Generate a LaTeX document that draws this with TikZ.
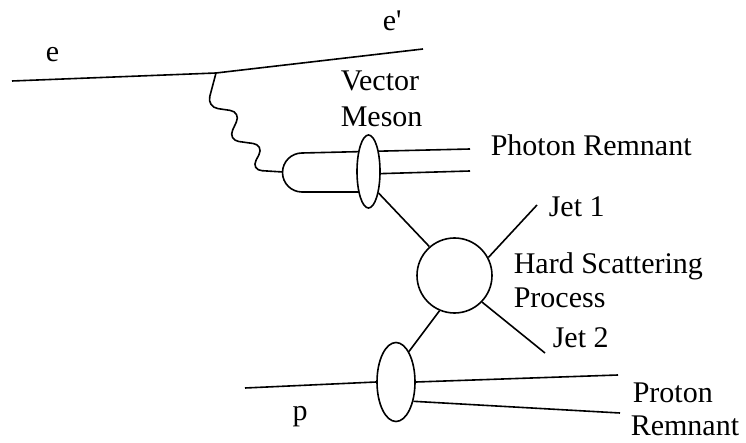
\documentclass[tikz,border=0pt]{standalone}
\usepackage{fontspec}
\setmainfont{Liberation Serif}
\usetikzlibrary{shapes.geometric}
\begin{document}
\begin{tikzpicture}[x=1pt,y=-1pt,line width=1.6pt,
  lbl/.style={font=\fontsize{30}{34}\selectfont,inner sep=0pt},
  blob/.style={draw,fill=white,ellipse,inner sep=0pt},
  wave/.style={rounded corners=11pt}]
\path[use as bounding box] (0,0) rectangle (746,443);
% coordinates
\coordinate (ein) at (12,81);
\coordinate (v) at (216,73);
\coordinate (eout) at (423,49);
\coordinate (cap) at (283,172);
\coordinate (pr1) at (470,149);
\coordinate (pr2) at (470,171);
\coordinate (j1) at (537,205);
\coordinate (j2) at (545,353);
\coordinate (pin) at (245,388);
\coordinate (rem1) at (618,375);
\coordinate (rem2) at (620,413);
% electron
\draw (ein) -- (v) -- (eout);
% photon
\draw[wave] (v) -- (207,107) -- (241,112) -- (228,140) -- (264,145) -- (251,170) -- (cap);
% capsule (q qbar)
\draw (pr1) -- (302,153) arc[start angle=270,end angle=90,radius=19.5] -- (368,192);
\draw (368,174) -- (pr2);
% vector meson blob
\node[blob,minimum width=23pt,minimum height=73pt] (vm) at (368.5,171.5) {};
% hard scattering
\node[draw,circle,minimum size=75pt,inner sep=0pt] (hs) at (454.5,275.5) {};
% proton blob
\node[blob,minimum width=38pt,minimum height=79pt] (pb) at (396,382) {};
% connectors
\draw (vm.-65) -- (hs.131);
\draw (hs.28) -- (j1);
\draw (hs.-44) -- (j2);
\draw (hs.-113) -- (pb.67);
\draw (pin) -- (pb.west);
\draw (pb.east) -- (rem1);
\draw (pb.-48) -- (rem2);
% labels
\node[lbl,anchor=base west] (le) at (45,62) {e};
\node[lbl,anchor=base west] (lep) at (382,31) {e\textquotesingle};
\node[lbl,anchor=base west] (lv) at (340,91) {Vector};
\node[lbl,anchor=base west] (lm) at (340,127) {Meson};
\node[lbl,anchor=base west] (lpr) at (490,156) {Photon Remnant};
\node[lbl,anchor=base west] (lj1) at (548,217) {Jet 1};
\node[lbl,anchor=base west] (lhs) at (513,274) {Hard Scattering};
\node[lbl,anchor=base west] (lpp) at (513,307) {Process};
\node[lbl,anchor=base west] (lj2) at (552,347) {Jet 2};
\node[lbl,anchor=base] (lp) at (300,420) {p};
\node[lbl,anchor=base west] (lpt) at (632,402) {Proton};
\node[lbl,anchor=base west] (lrm) at (630,435) {Remnant};
\end{tikzpicture}
\end{document}
